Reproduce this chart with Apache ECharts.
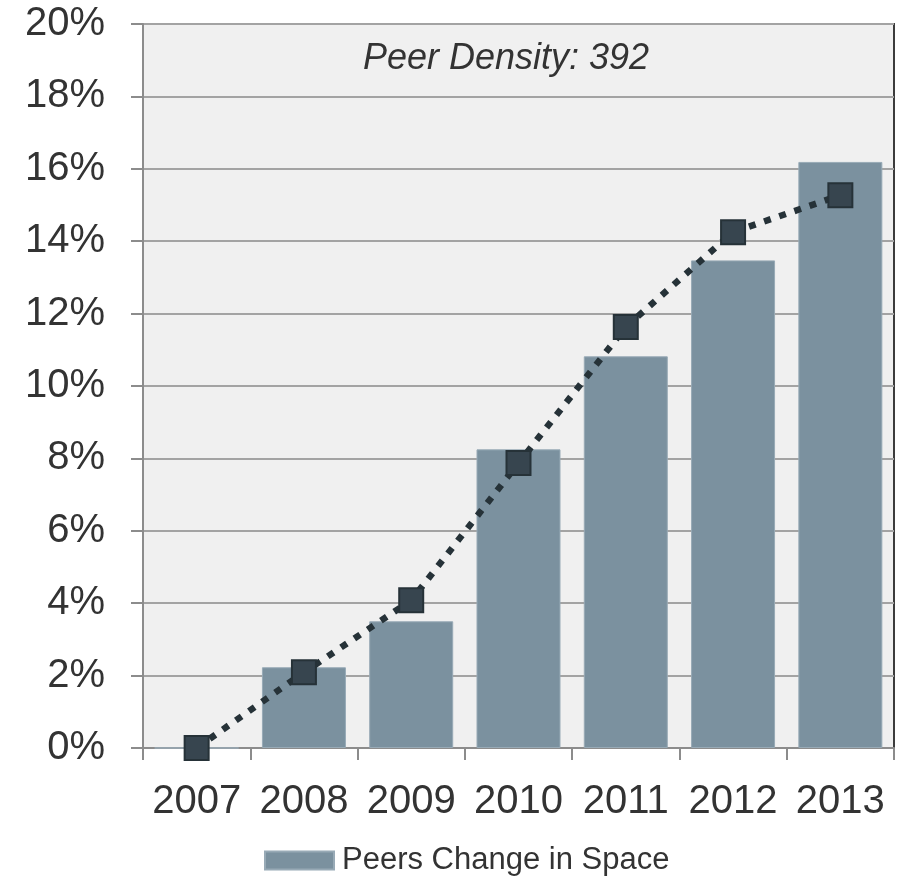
<!DOCTYPE html>
<html>
<head>
<meta charset="utf-8">
<script src="https://cdn.jsdelivr.net/npm/echarts@6/dist/echarts.min.js"></script>
<style>
  html, body { margin: 0; padding: 0; background: #ffffff; }
  #chart { width: 900px; height: 877px; }
</style>
</head>
<body>
<div id="chart"></div>
<script>
// Years on the category axis
const years = ['2007', '2008', '2009', '2010', '2011', '2012', '2013'];
// Bar series: peers' change in space (percent)
const peersChange = [0, 2.23, 3.50, 8.25, 10.82, 13.47, 16.19];
// Dotted line series (percent)
const lineValues = [0, 2.09, 4.08, 7.87, 11.63, 14.25, 15.27];
// Value axis settings
const yMin = 0, yMax = 20, yStep = 2;
const annotation = 'Peer Density: 392';

const FONT = '"Liberation Sans", Arial, Helvetica, sans-serif';
const chart = echarts.init(document.getElementById('chart'), null, { renderer: 'canvas' });

chart.setOption({
  animation: false,
  backgroundColor: '#ffffff',
  grid: {
    left: 143, right: 6, top: 24, bottom: 129,
    show: true,
    backgroundColor: '#f0f0f0',
    borderColor: '#3c3c3c',
    borderWidth: 2
  },
  legend: {
    data: [{ name: 'Peers Change in Space', icon: 'rect' }],
    left: 264,
    top: 845,
    padding: 0,
    itemWidth: 69,
    itemHeight: 18,
    itemGap: 8,
    textStyle: { fontFamily: FONT, fontSize: 31, color: '#333333', padding: [0, 0, 0, 3] }
  },
  graphic: [{
    type: 'text',
    x: 506, y: 59,
    style: {
      text: annotation,
      font: 'italic 36px ' + FONT,
      fill: '#333333',
      textAlign: 'center',
      textVerticalAlign: 'middle'
    },
    z: 10
  }],
  xAxis: {
    type: 'category',
    data: years,
    boundaryGap: true,
    axisLine: { show: true, lineStyle: { color: '#8c8c8c', width: 2 } },
    axisTick: { show: true, length: 12, interval: 0, lineStyle: { color: '#8c8c8c', width: 2 } },
    axisLabel: { fontFamily: FONT, fontSize: 40, color: '#333333', margin: 34, interval: 0 },
    splitLine: { show: false }
  },
  yAxis: {
    type: 'value',
    min: yMin, max: yMax, interval: yStep,
    axisLine: { show: true, lineStyle: { color: '#8c8c8c', width: 2 } },
    axisTick: { show: true, length: 12, lineStyle: { color: '#8c8c8c', width: 2 } },
    axisLabel: { fontFamily: FONT, fontSize: 40, color: '#333333', margin: 38, formatter: '{value}%' },
    splitLine: { show: true, lineStyle: { color: '#a3a3a3', width: 2 } }
  },
  series: [
    {
      name: 'Peers Change in Space',
      type: 'bar',
      data: peersChange,
      barWidth: 84,
      itemStyle: { color: '#7b919f', borderColor: '#98aab6', borderWidth: 1 },
      z: 2
    },
    {
      name: 'Trend',
      type: 'line',
      data: lineValues,
      symbol: 'rect',
      symbolSize: 24,
      lineStyle: { color: '#263238', width: 6.5, type: [7, 9], cap: 'butt' },
      itemStyle: { color: '#37454f', borderColor: '#263238', borderWidth: 2 },
      z: 3
    }
  ]
});
</script>
</body>
</html>
